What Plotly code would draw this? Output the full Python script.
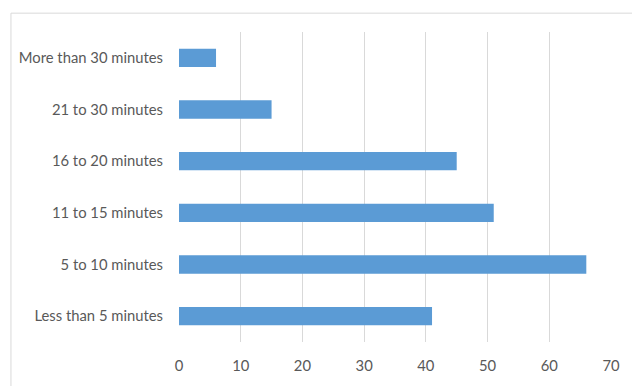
import plotly.graph_objects as go

# Commute time categories (bottom to top) and number of respondents
categories = [
    "Less than 5 minutes",
    "5 to 10 minutes",
    "11 to 15 minutes",
    "16 to 20 minutes",
    "21 to 30 minutes",
    "More than 30 minutes",
]
counts = [41, 66, 51, 45, 15, 6]
x_ticks = [0, 10, 20, 30, 40, 50, 60, 70]

TEXT = "#595959"
FONT = "Lato, 'Open Sans', sans-serif"
FONT_SIZE = 14.8

fig = go.Figure(
    go.Bar(
        x=counts,
        y=categories,
        orientation="h",
        marker=dict(color="#5B9BD5", line=dict(width=0)),
        hoverinfo="x+y",
    )
)

fig.update_layout(
    width=632,
    height=386,
    margin=dict(l=179, r=16, t=32, b=33),
    paper_bgcolor="white",
    plot_bgcolor="white",
    bargap=0.645,
    showlegend=False,
    font=dict(family=FONT, size=FONT_SIZE, color=TEXT),
    xaxis=dict(
        range=[0, 70],
        tickvals=x_ticks,
        ticktext=[str(v) for v in x_ticks],
        showgrid=True,
        gridcolor="#D9D9D9",
        gridwidth=1,
        zeroline=False,
        showline=False,
        ticks="",
        ticklabelstandoff=13,
        tickfont=dict(family=FONT, size=FONT_SIZE, color=TEXT),
        fixedrange=True,
    ),
    yaxis=dict(
        type="category",
        categoryorder="array",
        categoryarray=categories,
        showgrid=False,
        zeroline=False,
        showline=False,
        ticks="",
        ticklabelstandoff=15,
        tickfont=dict(family=FONT, size=FONT_SIZE, color=TEXT),
        fixedrange=True,
    ),
)

# Chart-area frame (top and left edges visible, running off the page)
plot_w = 632 - 179 - 16
plot_h = 386 - 32 - 33
frame_x = (9 - 179) / plot_w
frame_y = (386 - 33 - 12.5) / plot_h
fig.add_shape(
    type="line", xref="paper", yref="paper",
    x0=frame_x, x1=1.1, y0=frame_y, y1=frame_y,
    line=dict(color="#D9D9D9", width=1),
)
fig.add_shape(
    type="line", xref="paper", yref="paper",
    x0=frame_x, x1=frame_x, y0=-0.2, y1=frame_y,
    line=dict(color="#D9D9D9", width=1),
)

fig.write_html("out.html")
